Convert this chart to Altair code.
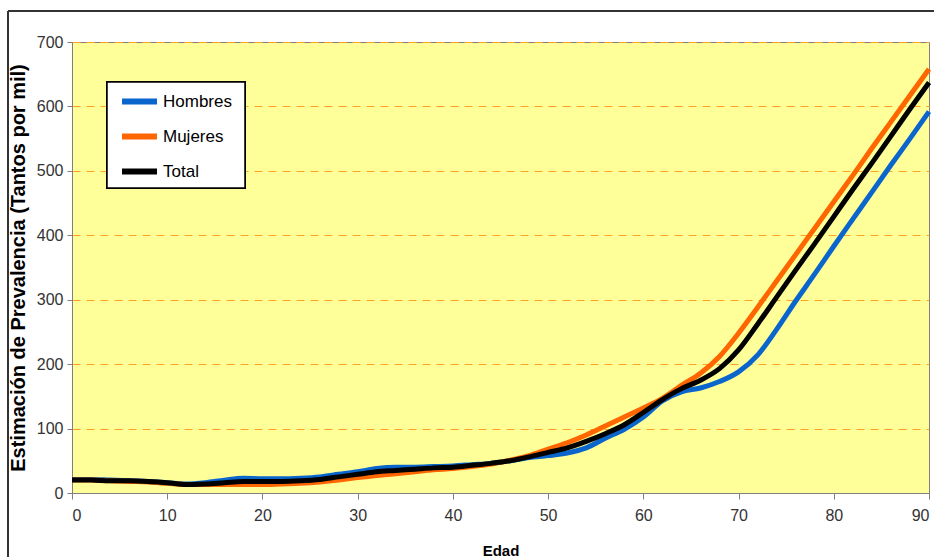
import altair as alt
import pandas as pd

# Edad (años) y prevalencia estimada (tantos por mil)
edad = list(range(0, 91, 2))
hombres = [21, 21, 20, 19, 18, 16, 14, 16, 20, 23, 22, 22, 23, 25, 29, 33, 38, 40, 40, 41,
           42, 44, 46, 50, 55, 58, 62, 70, 85, 99, 118, 143, 157, 163, 173, 188, 214, 254,
           298, 340, 383, 425, 467, 509, 550, 592]
mujeres = [20, 20, 19, 18, 17, 15, 13, 13, 13, 13, 13, 14, 15, 17, 20, 24, 27, 30, 33, 36,
           38, 41, 45, 51, 58, 68, 78, 90, 104, 118, 132, 147, 167, 186, 212, 248, 288, 329,
           370, 411, 452, 493, 535, 576, 617, 658]
total = [20, 20, 19, 19, 18, 16, 13, 14, 16, 18, 18, 18, 19, 21, 25, 29, 33, 35, 37, 39,
         40, 43, 46, 50, 56, 63, 70, 80, 92, 106, 125, 145, 162, 175, 193, 222, 262, 304,
         346, 387, 429, 471, 512, 554, 596, 637]

series = ["Hombres", "Mujeres", "Total"]
colors = ["#0A66CC", "#FF6600", "#000000"]
y_ticks = list(range(0, 701, 100))
x_ticks = list(range(0, 91, 10))

rows = []
for name, vals in zip(series, [hombres, mujeres, total]):
    for e, v in zip(edad, vals):
        rows.append({"Edad": e, "Valor": v, "Serie": name})
df = pd.DataFrame(rows)

FONT = "Liberation Sans"

lines = alt.Chart(df).mark_line(strokeWidth=5, interpolate="monotone").encode(
    x=alt.X("Edad:Q",
            scale=alt.Scale(domain=[0, 90], nice=False, zero=False),
            axis=alt.Axis(values=x_ticks, grid=False, tickSize=6, labelPadding=8,
                          title="Edad", titleFontWeight="bold", titleFontSize=15,
                          titlePadding=20, titleColor="#000000")),
    y=alt.Y("Valor:Q",
            scale=alt.Scale(domain=[0, 700], nice=False),
            axis=alt.Axis(values=y_ticks, grid=True, gridDash=[8, 6], gridColor="#FFA21F",
                          gridWidth=1, tickSize=5, labelPadding=4,
                          title="Estimación de Prevalencia (Tantos por mil)",
                          titleFontWeight="bold", titleFontSize=20, titlePadding=8,
                          titleColor="#000000")),
    color=alt.Color("Serie:N",
                    scale=alt.Scale(domain=series, range=colors),
                    legend=alt.Legend(title=None, orient="none", legendX=47, legendY=39,
                                      padding=0, symbolType="stroke",
                                      symbolStrokeWidth=6, symbolSize=1225,
                                      labelFontSize=17, labelFont=FONT,
                                      labelColor="#000000", labelOffset=3,
                                      rowPadding=2)),
)

# Recuadro blanco de la leyenda
legend_box = alt.Chart(df).mark_rect(fill="#FFFFFF", stroke="#000000", strokeWidth=1.5).encode(
    x=alt.value(35), x2=alt.value(173), y=alt.value(40), y2=alt.value(146))

# Marco exterior del área del gráfico
frame_top = alt.Chart(df).mark_rule(color="#333333", strokeWidth=2).encode(
    x=alt.value(-64), x2=alt.value(870), y=alt.value(-31))
frame_left = alt.Chart(df).mark_rule(color="#333333", strokeWidth=2).encode(
    x=alt.value(-64), y=alt.value(-31), y2=alt.value(520))

chart = alt.layer(frame_top, frame_left, legend_box, lines).properties(
    width=857, height=451,
    autosize=alt.AutoSizeParams(type="none"),
    padding={"left": 72, "top": 42, "right": 5, "bottom": 64},
    background="#FFFFFF",
).configure_view(
    fill="#FFFF99", stroke="#808080", strokeWidth=1
).configure_axis(
    labelFont=FONT, labelFontSize=16, labelColor="#333333",
    titleFont=FONT, domainColor="#808080", tickColor="#808080",
)

chart.save("out.html", embed_options={"renderer": "svg", "actions": False})
